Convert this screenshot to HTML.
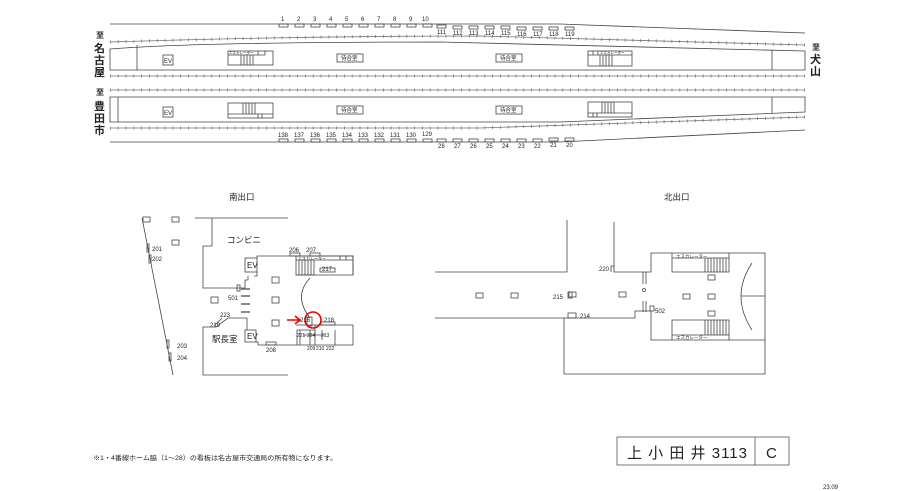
<!DOCTYPE html>
<html><head><meta charset="utf-8">
<style>
html,body{margin:0;padding:0;background:#fff;}
svg{display:block;}
text{font-family:"Liberation Sans","Noto Sans CJK JP",sans-serif;fill:#222;}
</style></head>
<body>
<svg width="919" height="491" viewBox="0 0 919 491" xmlns="http://www.w3.org/2000/svg">
<g fill="none" stroke="#444" stroke-width="0.8">
<!-- upper platform -->
<path d="M110 24 H560 L805 33"/>
<path d="M110 42 Q300 36 480 36 L805 45" stroke="#777"/>
<path d="M110 42 Q300 36 480 36 L805 45" stroke="#777" stroke-width="3" stroke-dasharray="0.8 7"/>
<path d="M110 49 Q200 42 440 42 L805 51 V70 H110 Z"/>
<line x1="137" y1="45" x2="137" y2="70"/>
<line x1="772" y1="50" x2="772" y2="70"/>
<line x1="110" y1="76" x2="805" y2="76" stroke="#777"/>
<line x1="110" y1="76" x2="805" y2="76" stroke="#777" stroke-width="3" stroke-dasharray="0.8 7"/>
<!-- lower platform -->
<line x1="110" y1="90" x2="805" y2="90" stroke="#777"/>
<line x1="110" y1="90" x2="805" y2="90" stroke="#777" stroke-width="3" stroke-dasharray="0.8 7"/>
<path d="M110 97 H805 V112 L560 122 H110 Z"/>
<line x1="118" y1="97" x2="118" y2="122"/>
<line x1="772" y1="97" x2="772" y2="113"/>
<path d="M110 128 H480 L805 117" stroke="#777"/>
<path d="M110 128 H480 L805 117" stroke="#777" stroke-width="3" stroke-dasharray="0.8 7"/>
<path d="M110 142 H560 L805 130"/>
<!-- platform contents -->
<rect x="163" y="55" width="10" height="10"/>
<rect x="228" y="51" width="45" height="14"/>
<line x1="228" y1="55" x2="265" y2="55"/><line x1="258" y1="51" x2="258" y2="55"/><line x1="265" y1="51" x2="265" y2="55"/>
<path d="M241 55V65M244 55V65M247 55V65M250 55V65M253 55V65"/>
<rect x="337" y="54" width="26" height="8"/>
<rect x="496" y="54" width="26" height="8"/>
<rect x="588" y="51" width="44" height="15"/>
<line x1="588" y1="55" x2="632" y2="55"/><line x1="593" y1="51" x2="593" y2="55"/><line x1="598" y1="51" x2="598" y2="55"/>
<path d="M600 55V66M603 55V66M606 55V66M609 55V66M612 55V66"/>
<rect x="163" y="107" width="10" height="10"/>
<rect x="228" y="103" width="45" height="15"/>
<line x1="228" y1="114" x2="273" y2="114"/><line x1="258" y1="114" x2="258" y2="118"/><line x1="262" y1="114" x2="262" y2="118"/>
<path d="M243 103V114M246 103V114M249 103V114M252 103V114M255 103V114"/>
<rect x="337" y="106" width="26" height="8"/>
<rect x="496" y="106" width="26" height="8"/>
<rect x="588" y="102" width="44" height="15"/>
<line x1="588" y1="113" x2="632" y2="113"/><line x1="593" y1="113" x2="593" y2="117"/><line x1="597" y1="113" x2="597" y2="117"/>
<path d="M602 102V113M605 102V113M608 102V113M611 102V113M614 102V113"/>
<!-- sign boxes -->
<g id="tb">
<rect x="279" y="24" width="9" height="3"/><rect x="295" y="24" width="9" height="3"/><rect x="311" y="24" width="9" height="3"/><rect x="327" y="24" width="9" height="3"/><rect x="343" y="24" width="9" height="3"/><rect x="359" y="24" width="9" height="3"/><rect x="375" y="24" width="9" height="3"/><rect x="391" y="24" width="9" height="3"/><rect x="407" y="24" width="9" height="3"/><rect x="423" y="24" width="9" height="3"/>
</g>
<rect x="437" y="25" width="9" height="3"/><rect x="453" y="26" width="9" height="3"/><rect x="469" y="26" width="9" height="3"/><rect x="485" y="26" width="9" height="3"/><rect x="501" y="26" width="9" height="3"/><rect x="517" y="27" width="9" height="3"/><rect x="533" y="27" width="9" height="3"/><rect x="549" y="27" width="9" height="3"/><rect x="565" y="27" width="9" height="3"/>
<g transform="translate(0,115)"><use href="#tb"/></g>
<rect x="437" y="139" width="9" height="3"/><rect x="453" y="139" width="9" height="3"/><rect x="469" y="139" width="9" height="3"/><rect x="485" y="139" width="9" height="3"/><rect x="501" y="139" width="9" height="3"/><rect x="517" y="139" width="9" height="3"/><rect x="533" y="139" width="9" height="3"/><rect x="549" y="138" width="9" height="3"/><rect x="565" y="138" width="9" height="3"/>

<!-- south exit -->
<line x1="142" y1="218" x2="173" y2="375"/>
<rect x="143" y="217" width="7" height="5"/><rect x="172" y="217" width="7" height="5"/><rect x="172" y="240" width="7" height="5"/>
<rect x="147" y="244" width="2" height="8"/><rect x="149" y="255" width="2" height="8"/><rect x="167" y="340" width="2" height="8"/><rect x="169" y="353" width="2" height="8"/>
<path d="M195 218H288M212 218V246H203V288H245V280H248V276"/>
<rect x="245" y="258" width="12" height="14"/>
<path d="M257 258V256H353V275M257 272V276H254"/>
<path d="M296 256H353V275H296Z"/>
<line x1="296" y1="260" x2="353" y2="260"/>
<line x1="340" y1="256" x2="340" y2="260"/><line x1="346" y1="256" x2="346" y2="260"/>
<path d="M299 260V275M302 260V275M305 260V275M308 260V275M311 260V275M314 260V275"/>
<line x1="296" y1="275" x2="315" y2="275"/>
<rect x="320" y="268" width="15" height="4"/>
<rect x="290" y="253" width="10" height="3"/><rect x="310" y="253" width="10" height="3"/>
<path d="M310 278 Q293 296 310 318"/>
<rect x="272" y="277" width="7" height="6"/><rect x="272" y="297" width="7" height="6"/><rect x="272" y="320" width="7" height="6"/><rect x="211" y="297" width="7" height="6"/>
<rect x="237" y="285" width="3" height="6"/>
<g stroke="#666" stroke-width="1.5"><line x1="241" y1="289" x2="250" y2="289"/><line x1="241" y1="296" x2="250" y2="296"/><line x1="241" y1="304" x2="250" y2="304"/><line x1="241" y1="312" x2="250" y2="312"/></g>
<path d="M203 375V327H216L228 318H247V330"/>
<line x1="214" y1="326" x2="222" y2="318"/>
<rect x="245" y="330" width="11" height="12"/>
<path d="M256 342H258V345H353V325H296"/>
<rect x="266" y="342" width="10" height="3"/>
<path d="M297 345V330H315M300 330V345M303 335H325M310 330V345M315 325V345M322 330V340M335 330V345"/>
<rect x="307" y="317" width="5" height="9"/>
<rect x="321" y="322" width="14" height="3"/>
<line x1="203" y1="375" x2="288" y2="375"/>

<!-- north exit -->
<path d="M435 272H567V220"/>
<path d="M614 222V272H651V253H765V374H564V318H435"/>
<path d="M564 318H635V311H651V340H765"/>
<line x1="611" y1="266" x2="614" y2="266"/><line x1="611" y1="266" x2="611" y2="272"/>
<path d="M672 253V272H729V253M705 258H729M705 258V272"/>
<line x1="672" y1="258" x2="705" y2="258"/>
<path d="M708 258V272M711 258V272M714 258V272M717 258V272M720 258V272M723 258V272M726 258V272"/>
<path d="M672 340V320H729V340M672 335H729"/>
<path d="M705 320V335M708 320V335M711 320V335M714 320V335M717 320V335M720 320V335M723 320V335M726 320V335"/>
<path d="M752 263 Q730 296 752 330"/>
<line x1="741" y1="296" x2="765" y2="296"/>
<rect x="476" y="293" width="7" height="5"/><rect x="511" y="293" width="7" height="5"/><rect x="569" y="292" width="7" height="5"/><rect x="619" y="292" width="7" height="5"/><rect x="683" y="294" width="7" height="5"/><rect x="708" y="294" width="7" height="5"/><rect x="708" y="275" width="7" height="5"/><rect x="708" y="311" width="7" height="5"/>
<rect x="568" y="292" width="4" height="6"/>
<rect x="568" y="313" width="8" height="5"/>
<path d="M643 272V284M646 272V284M643 301V312M646 301V312"/>
<circle cx="644" cy="290" r="1.5"/>
<rect x="650" y="306" width="4" height="5"/>

<!-- title box -->
<rect x="617" y="437" width="172" height="28" stroke="#555"/>
<line x1="755" y1="437" x2="755" y2="465" stroke="#555"/>
</g>
<circle cx="313" cy="320" r="8" fill="none" stroke="#e00" stroke-width="1.6"/>
<path d="M287 320H299M295 316L300 320L295 324" fill="none" stroke="#e00" stroke-width="1.6"/>

<!-- text -->
<g font-size="6">
<text x="281" y="21">1</text><text x="297" y="21">2</text><text x="313" y="21">3</text><text x="329" y="21">4</text><text x="345" y="21">5</text><text x="361" y="21">6</text><text x="377" y="21">7</text><text x="393" y="21">8</text><text x="409" y="21">9</text><text x="422" y="21">10</text>
<text x="437" y="34">111</text><text x="453" y="35">112</text><text x="469" y="35">113</text><text x="485" y="35">114</text><text x="501" y="35">115</text><text x="517" y="36">116</text><text x="533" y="36">117</text><text x="549" y="36">118</text><text x="565" y="36">119</text>
<text x="278" y="137">138</text><text x="294" y="137">137</text><text x="310" y="137">136</text><text x="326" y="137">135</text><text x="342" y="137">134</text><text x="358" y="137">133</text><text x="374" y="137">132</text><text x="390" y="137">131</text><text x="406" y="137">130</text><text x="422" y="136">129</text>
<text x="438" y="148">28</text><text x="454" y="148">27</text><text x="470" y="148">26</text><text x="486" y="148">25</text><text x="502" y="148">24</text><text x="518" y="148">23</text><text x="534" y="148">22</text><text x="550" y="147">21</text><text x="566" y="147">20</text>
<text x="164" y="63">EV</text><text x="164" y="115">EV</text>
<text x="341" y="60" font-size="5.5">待合室</text><text x="500" y="60" font-size="5.5">待合室</text>
<text x="341" y="112" font-size="5.5">待合室</text><text x="500" y="112" font-size="5.5">待合室</text>
<text x="229" y="54" font-size="3.5">エスカレーター</text><text x="600" y="54" font-size="3.5">エスカレーター</text>
<text x="152" y="251">201</text><text x="152" y="261">202</text><text x="177" y="348">203</text><text x="177" y="360">204</text>
<text x="289" y="252">206</text><text x="306" y="252">207</text><text x="322" y="271">217</text>
<text x="228" y="300">501</text><text x="210" y="327">219</text><text x="220" y="317">223</text>
<text x="266" y="352">208</text><text x="324" y="322">218</text><text x="300" y="322">216</text>
<text x="297" y="337" font-size="5">221</text><text x="307" y="337" font-size="5">224</text><text x="321" y="337" font-size="5">213</text>
<text x="307" y="350" font-size="5">209</text><text x="316" y="350" font-size="5">210</text><text x="326" y="350" font-size="5">222</text>
<text x="599" y="271">220</text><text x="553" y="299">215</text><text x="580" y="318">214</text><text x="655" y="313">502</text>
<text x="676" y="258" font-size="4.5">エスカレーター</text><text x="676" y="339" font-size="4.5">エスカレーター</text>
</g>
<text x="298" y="260" font-size="4">エスカレーター</text>
<g font-size="8"><text x="247" y="268">EV</text><text x="247" y="339">EV</text></g>
<g font-size="8.5"><text x="229" y="200">南出口</text><text x="664" y="200">北出口</text>
<text x="227" y="243">コンビニ</text><text x="212" y="342">駅長室</text></g>
<g font-size="8" font-weight="bold"><text x="96" y="38">至</text><text x="96" y="95">至</text><text x="812" y="50">至</text></g>
<g font-size="11" font-weight="bold"><text x="94" y="52">名</text><text x="94" y="64">古</text><text x="94" y="76">屋</text>
<text x="94" y="110">豊</text><text x="94" y="122">田</text><text x="94" y="134">市</text>
<text x="810" y="63">犬</text><text x="810" y="75">山</text></g>
<text x="93" y="460" font-size="6.5" textLength="244" lengthAdjust="spacingAndGlyphs">※1・4番線ホーム脇（1〜28）の看板は名古屋市交通局の所有物になります。</text>
<text x="627" y="458" font-size="15" textLength="120" lengthAdjust="spacing">上 小 田 井 3113</text>
<text x="766" y="458" font-size="15">C</text>
<text x="823" y="489" font-size="6">23.09</text>
</svg>
</body></html>
